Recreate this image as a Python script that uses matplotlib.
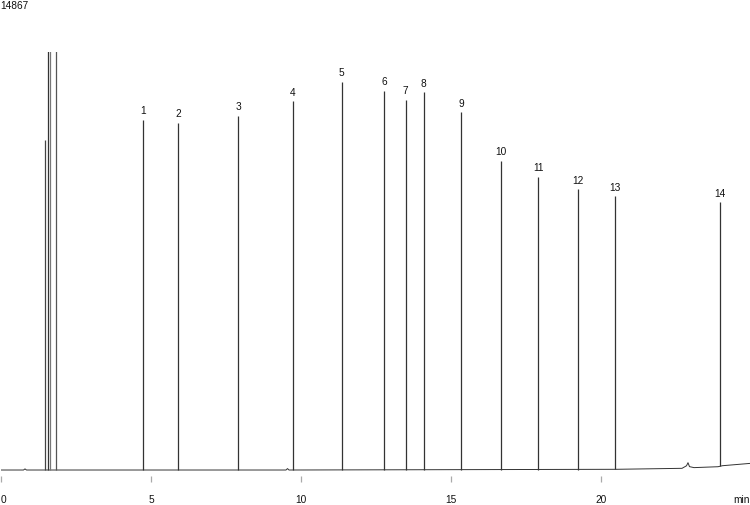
import matplotlib
matplotlib.use("Agg")
import matplotlib.pyplot as plt
import numpy as np

plt.rcParams['font.family'] = ['Liberation Sans', 'DejaVu Sans']

# numbered peaks: retention time (min), apex height, baseline under the peak
peak_labels = ['1', '2', '3', '4', '5', '6', '7', '8', '9', '10', '11', '12', '13', '14']
peak_times = [4.73, 5.90, 7.90, 9.73, 11.35, 12.78, 13.49, 14.09, 15.34, 16.66, 17.91, 19.24, 20.48, 23.97]
peak_heights = [12450, 12340, 12590, 13120, 13800, 13480, 13160, 13440, 12730, 10990, 10420, 9990, 9740, 9530]
peak_bases = [0, 0, 0, 0, 0, 0, 0, 0, 0, 0, 0, 0, 20, 140]

# solvent front peaks (the tall ones run off the top)
solvent_times = [1.48, 1.58, 1.63, 1.83]
solvent_heights = [11740, 20000, 20000, 20000]

# baseline trace
base_t = [0.0, 0.75, 0.80, 0.85, 9.5, 9.55, 9.6, 20.5, 22.7, 22.85, 22.9, 22.95, 23.1, 23.9, 24.05, 25.0]
base_y = [0, 0, 40, 0, 0, 50, 0, 25, 60, 150, 260, 120, 85, 117, 153, 238]

x_ticks = [0, 5, 10, 15, 20]
x_labels = ['0', '5', '10', '15', '20']
y_top = 14867

fig = plt.figure(figsize=(7.5, 5.05), dpi=100)
ax = fig.add_axes([1 / 750, 29 / 505, 1.0, 424 / 505])

line_col = '#333333'
ax.plot(base_t, base_y, color=line_col, lw=0.7)
ax.vlines(peak_times, peak_bases, peak_heights, color=line_col, lw=0.9)
ax.vlines(solvent_times, 0, solvent_heights, color=['#444444', '#333333', '#777777', '#555555'], lw=0.9)

for lab, t, h in zip(peak_labels, peak_times, peak_heights):
    ax.annotate(lab, (t, h), xytext=(0, 4), textcoords='offset points',
                ha='center', va='baseline', fontsize=7.3, color='#111111')

ax.set_xlim(0, 25)
ax.set_ylim(-213, y_top)
ax.set_xticks(x_ticks)
ax.set_xticklabels(x_labels)
ax.get_xticklabels()[0].set_ha('left')
ax.set_yticks([])
ax.tick_params(axis='x', direction='out', length=4, width=0.9, color='#aaaaaa',
               pad=10, labelsize=7.3, labelcolor='#111111')
for s in ax.spines.values():
    s.set_visible(False)

fig.text(0.0, 1 - 1 / 505, str(y_top), ha='left', va='top', fontsize=7.3, color='#111111')
fig.text(1.0, (505 - 500) / 505, 'min', ha='right', va='center', fontsize=7.3, color='#111111')

fig.savefig('out.png', dpi=100)
